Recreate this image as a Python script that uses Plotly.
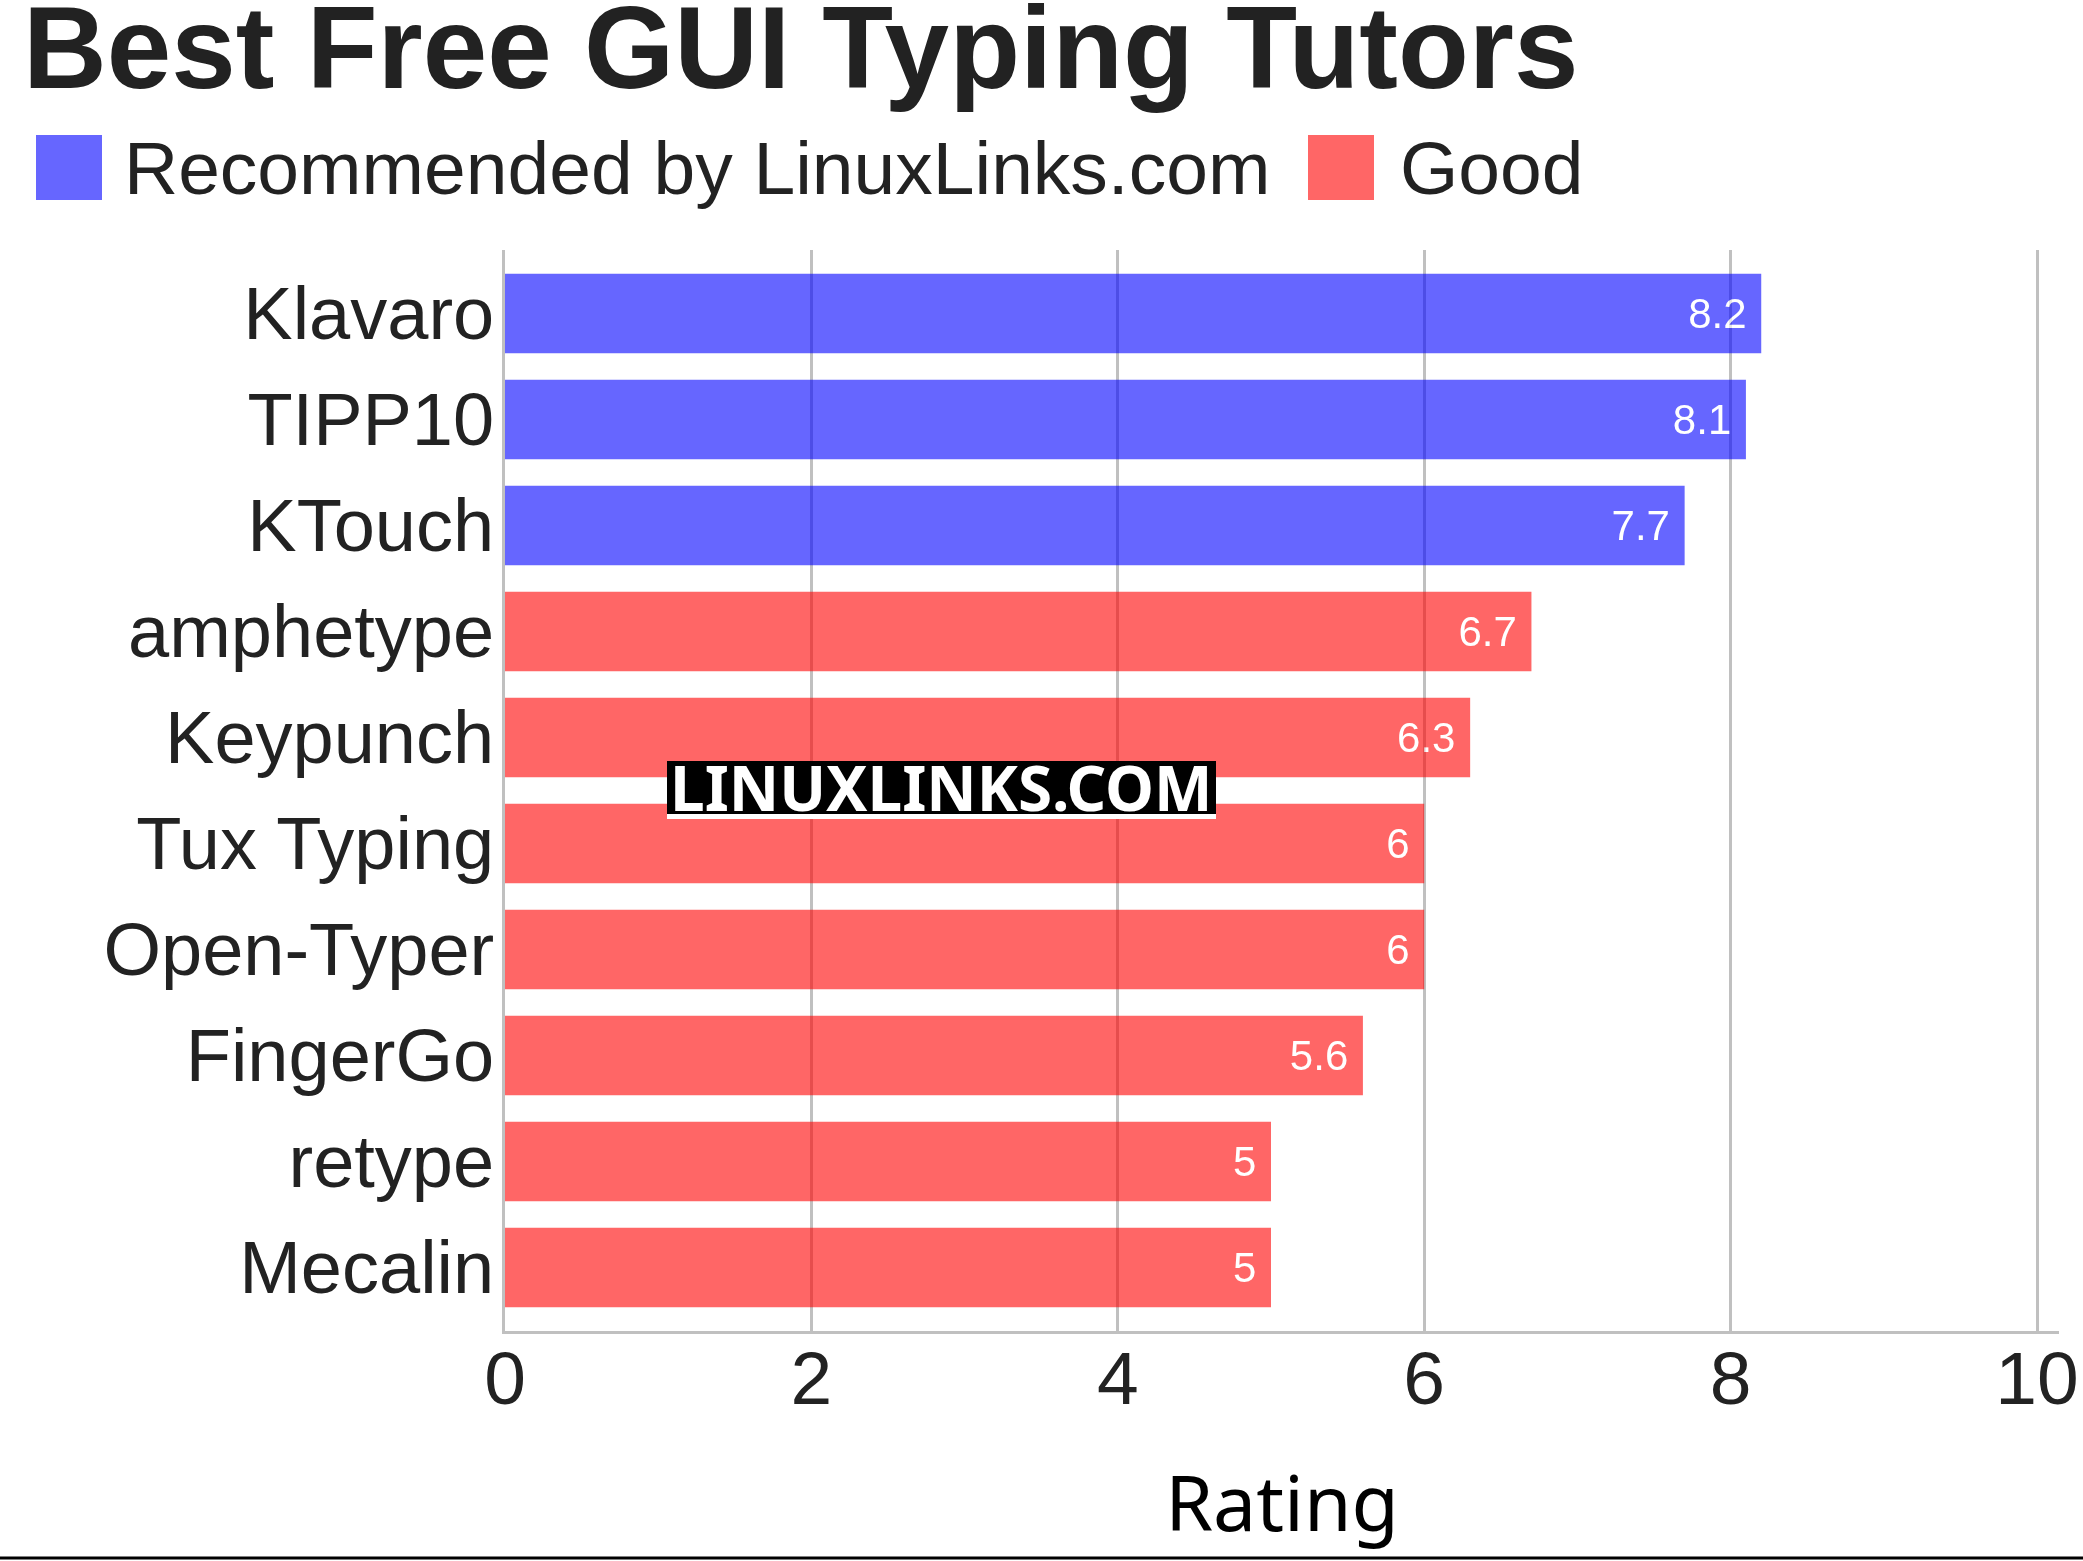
import plotly.graph_objects as go

# ---- data ----
categories = ["Klavaro", "TIPP10", "KTouch", "amphetype", "Keypunch",
              "Tux Typing", "Open-Typer", "FingerGo", "retype", "Mecalin"]
recommended_names = ["Klavaro", "TIPP10", "KTouch"]
recommended_values = [8.2, 8.1, 7.7]
good_names = ["amphetype", "Keypunch", "Tux Typing", "Open-Typer", "FingerGo", "retype", "Mecalin"]
good_values = [6.7, 6.3, 6, 6, 5.6, 5, 5]
x_ticks = [0, 2, 4, 6, 8, 10]
series_names = ["Recommended by LinuxLinks.com", "Good"]

W, H = 2083, 1561
L, R, T, B = 505, 24, 250, 230
PW, PH = W - L - R, H - T - B


def px_x(p):
    return (p - L) / PW


def px_y(p):
    return (H - B - p) / PH


FONT = "Liberation Sans, Arial, sans-serif"
TXT = "#222222"
BLUE = "rgba(0,0,255,0.6)"
RED = "rgba(255,0,0,0.6)"

fig = go.Figure()
fig.add_trace(go.Bar(
    y=recommended_names, x=recommended_values, orientation="h",
    name=series_names[0], marker=dict(color="blue", line=dict(width=0)), opacity=0.6,
    texttemplate="%{x}\u00a0", textposition="inside", insidetextanchor="end",
    textfont=dict(family=FONT, size=42, color="white"), showlegend=False,
    hoverinfo="x+y",
))
fig.add_trace(go.Bar(
    y=good_names, x=good_values, orientation="h",
    name=series_names[1], marker=dict(color="red", line=dict(width=0)), opacity=0.6,
    texttemplate="%{x}\u00a0", textposition="inside", insidetextanchor="end",
    textfont=dict(family=FONT, size=42, color="white"), showlegend=False,
    hoverinfo="x+y",
))

shapes = []
annotations = []
# manual legend
legend_items = [
    (series_names[0], BLUE, 36, 102, 122),
    (series_names[1], RED, 1308, 1374, 1398),
]
for name, col, x0, x1, tx in legend_items:
    shapes.append(dict(type="rect", xref="paper", yref="paper",
                       x0=px_x(x0), x1=px_x(x1), y0=px_y(200), y1=px_y(135),
                       fillcolor=col, line=dict(width=0)))
    annotations.append(dict(text=name, xref="paper", yref="paper",
                            x=px_x(tx), y=px_y(168), xanchor="left", yanchor="middle",
                            showarrow=False, font=dict(family=FONT, size=75, color=TXT)))

# watermark: black box with a thin white strip below, text on top
shapes.append(dict(type="rect", xref="paper", yref="paper",
                   x0=px_x(667), x1=px_x(1216), y0=px_y(814), y1=px_y(761),
                   fillcolor="black", line=dict(width=0)))
shapes.append(dict(type="rect", xref="paper", yref="paper",
                   x0=px_x(667), x1=px_x(1216), y0=px_y(819), y1=px_y(814),
                   fillcolor="white", line=dict(width=0)))
annotations.append(dict(text="<b>LINUXLINKS.COM</b>", xref="paper", yref="paper",
                        x=px_x(941), y=px_y(787), xanchor="center", yanchor="middle",
                        showarrow=False, borderpad=0,
                        font=dict(family="Noto Sans, sans-serif", size=62, color="white")))

# bottom rule
shapes.append(dict(type="line", xref="paper", yref="paper",
                   x0=px_x(0), x1=px_x(W), y0=px_y(1558), y1=px_y(1558),
                   line=dict(color="black", width=3)))

fig.update_layout(
    width=W, height=H, autosize=False,
    margin=dict(l=L, r=R, t=T, b=B, pad=0, autoexpand=False),
    paper_bgcolor="white", plot_bgcolor="white",
    barmode="overlay", bargap=0.25,
    showlegend=False,
    title=dict(text="<b>Best Free GUI Typing Tutors</b>", x=23 / W, xref="container",
               xanchor="left", y=1 - 47 / H, yref="container", yanchor="middle",
               font=dict(family=FONT, size=116, color=TXT)),
    shapes=shapes,
    annotations=annotations,
    font=dict(family=FONT, color=TXT),
)

fig.update_xaxes(
    range=[0, 10 * PW / (2037 - L)], automargin=False,
    tickvals=x_ticks, ticktext=[str(t) for t in x_ticks],
    showgrid=True, gridcolor="#c0c0c0", gridwidth=3,
    zeroline=False, showline=True, linecolor="#c0c0c0", linewidth=3,
    ticks="", ticklabelstandoff=-20, ticklabeloverflow="allow",
    tickfont=dict(family=FONT, size=75, color=TXT),
    title=dict(text="Rating", standoff=59,
               font=dict(family="Noto Sans, sans-serif", size=77, color="black")),
)
fig.update_yaxes(
    categoryorder="array", categoryarray=categories, automargin=False,
    range=[len(categories) - 1 + 0.6, -0.6],
    showgrid=False, zeroline=False,
    showline=True, linecolor="#c0c0c0", linewidth=3,
    ticks="", ticklabelstandoff=-7,
    tickfont=dict(family=FONT, size=74, color=TXT),
)

fig.write_html(
    "out.html",
    config={"displayModeBar": False, "responsive": False},
    post_script="document.body.style.margin='0';document.body.style.overflow='hidden';",
)
